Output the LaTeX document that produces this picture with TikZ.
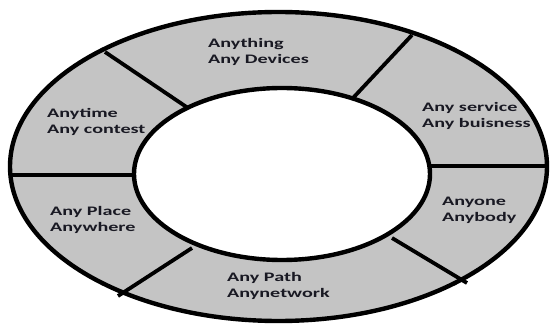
\documentclass[tikz,border=0pt]{standalone}
\usepackage{fontspec}
\setmainfont{Carlito}
\newfontfamily\lblfont[FakeStretch=1.55]{Carlito}
\definecolor{ringgray}{RGB}{196,196,196}
\definecolor{txt}{RGB}{25,25,35}
\begin{document}
\begin{tikzpicture}[x=1pt,y=-1pt,
  ring/.style={line width=4.4pt,draw=black},
  divider/.style={line width=3.8pt,draw=black},
  lbl/.style={anchor=base west,align=left,inner sep=0pt,font=\lblfont\bfseries\fontsize{13}{15.5}\selectfont,text=txt}]
\useasboundingbox (0,0) rectangle (550,326);
\fill[white] (0,0) rectangle (550,326);
% ring
\fill[ringgray,even odd rule] (278.5,166.5) ellipse [x radius=268.5pt, y radius=154.5pt]
  (282,174) ellipse [x radius=148pt, y radius=86pt];
\draw[ring] (278.5,166.5) ellipse [x radius=268.5pt, y radius=154.5pt];
\draw[ring] (282,174) ellipse [x radius=148pt, y radius=86pt];
% divider end points
\coordinate (o1) at (105,52);  \coordinate (i1) at (188,108);
\coordinate (o2) at (412,35);  \coordinate (i2) at (353,98);
\coordinate (o3) at (546,166); \coordinate (i3) at (430,166);
\coordinate (o4) at (11,175);  \coordinate (i4) at (134,175);
\coordinate (o5) at (118,296); \coordinate (i5) at (192,248);
\coordinate (o6) at (467,283); \coordinate (i6) at (392,238);
\draw[divider] (o1) -- (i1);
\draw[divider] (o2) -- (i2);
\draw[divider] (o3) -- (i3);
\draw[divider] (o4) -- (i4);
\draw[divider] (o5) -- (i5);
\draw[divider] (o6) -- (i6);
% labels (anchor = baseline of the second line)
\node[lbl] (t1) at (208,63.5) {Anything\\Any Devices};
\node[lbl] (t2) at (47,133.5) {Anytime\\Any contest};
\node[lbl] (t3) at (422,127.5) {Any service\\Any buisness};
\node[lbl] (t4) at (442,221.5) {Anyone\\Anybody};
\node[lbl] (t5) at (50,231.5) {Any Place\\Anywhere};
\node[lbl] (t6) at (227,297.5) {Any Path\\Anynetwork};
\end{tikzpicture}
\end{document}
